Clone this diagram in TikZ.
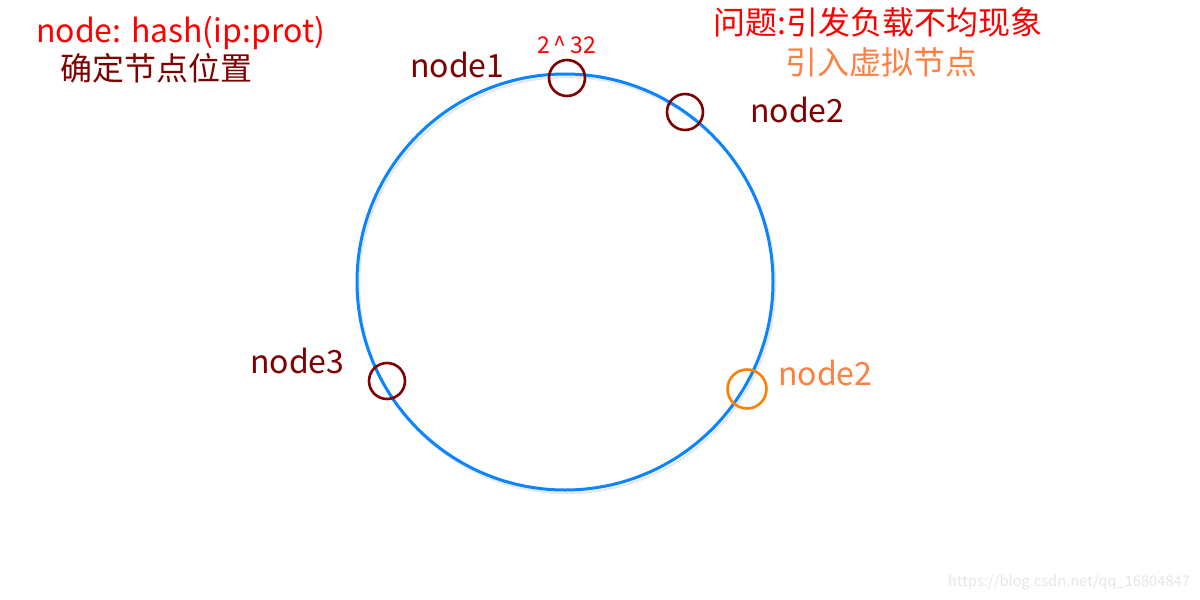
\documentclass[tikz,border=0pt]{standalone}
\usepackage{fontspec}
\setmainfont{Noto Sans CJK SC}
\setsansfont{Noto Sans CJK SC}
\definecolor{myred}{HTML}{FF0000}
\definecolor{dred}{HTML}{7F0000}
\definecolor{otext}{HTML}{FF7F40}
\definecolor{ocirc}{HTML}{FF8000}
\definecolor{ringblue}{HTML}{0A84FF}
\definecolor{wm}{HTML}{E6E6E6}
\tikzset{
  lbl/.style={inner sep=0pt, anchor=west, font=\fontsize{32}{38}\selectfont},
  mark circ/.style={draw=dred, line width=2.6pt, circle, minimum size=36pt, inner sep=0pt},
}
\begin{document}
\begin{tikzpicture}[x=1pt,y=-1pt]
\useasboundingbox (0,0) rectangle (1200,600);
% shadow of ring
\draw[line width=2.5pt, black!9] (567,285) circle[radius=208];
\node[draw=ringblue, line width=3pt, circle, minimum size=416pt, inner sep=0pt, fill=none] (ring) at (565,282) {};
% marker circles
\node[mark circ] (n1) at (567,78) {};
\node[mark circ] (n2) at (685,112) {};
\node[mark circ] (n3) at (387,381) {};
\node[mark circ, draw=ocirc, minimum size=39pt] (v2) at (747,389) {};
% labels
\node[lbl, text=myred] (hash) at (36,33) {node: hash(ip:prot)};
\node[lbl, text=dred] (pos) at (60,68) {确定节点位置};
\node[lbl, text=dred] (l1) at (410,65) {node1};
\node[lbl, text=myred, font=\fontsize{23}{28}\selectfont] (top) at (537,45) {2\,\^{}\,32};
\node[lbl, text=dred] (l2) at (750,110) {node2};
\node[lbl, text=myred] (prob) at (713,22) {问题:引发负载不均现象};
\node[lbl, text=otext] (virt) at (785,62) {引入虚拟节点};
\node[lbl, text=dred] (l3) at (250,361) {node3};
\node[lbl, text=otext] (lv) at (778,373) {node2};
\node[lbl, text=wm, font=\fontsize{14.7}{17}\selectfont] (wmk) at (948,582) {https://blog.csdn.net/qq\_16804847};
\end{tikzpicture}
\end{document}
